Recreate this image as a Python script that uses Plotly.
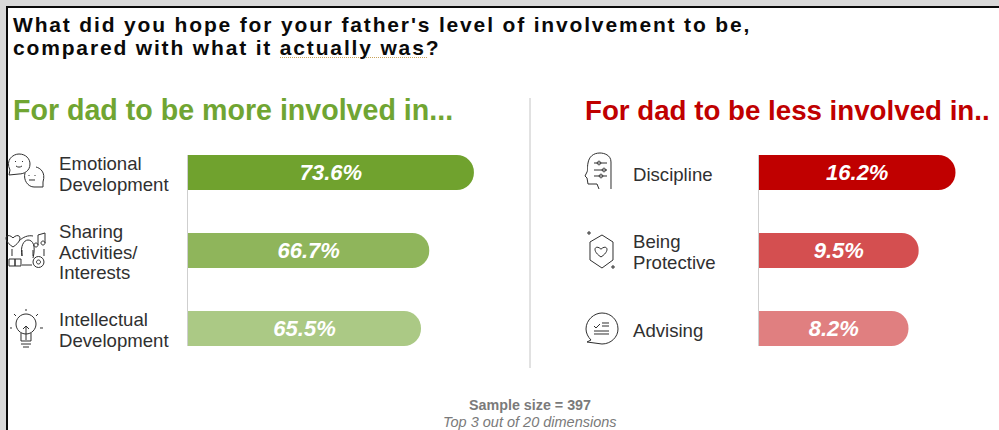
import re
import math
import plotly.graph_objects as go

W, H = 999, 430

# Survey results: share of respondents per dimension
more_labels = [["Emotional", "Development"], ["Sharing", "Activities/", "Interests"], ["Intellectual", "Development"]]
more_keys = ["Emotional Development", "Sharing Activities/Interests", "Intellectual Development"]
more_values = [73.6, 66.7, 65.5]
more_colors = ["#70a22e", "#8fb55b", "#abc985"]

less_labels = [["Discipline"], ["Being", "Protective"], ["Advising"]]
less_keys = ["Discipline", "Being Protective", "Advising"]
less_values = [16.2, 9.5, 8.2]
less_colors = ["#c00000", "#d44f50", "#e07f80"]

# Both value axes are logarithmic: lower bound and pixels per decade
more_start, more_px_per_decade = 39.2, 1045.0
less_start, less_px_per_decade = 0.94, 158.9


def px(x, y):
    return x / W, 1 - y / H


def to_paper(path):
    """Convert a path written in page pixels to paper coordinates."""
    return re.sub(r"(-?[\d.]+),(-?[\d.]+)",
                  lambda m: "%.5f,%.5f" % px(float(m[1]), float(m[2])), path)


def circle(cx, cy, rx, ry=None):
    ry = rx if ry is None else ry
    k = 0.5523
    return (f"M{cx-rx},{cy} C{cx-rx},{cy-k*ry} {cx-k*rx},{cy-ry} {cx},{cy-ry} "
            f"C{cx+k*rx},{cy-ry} {cx+rx},{cy-k*ry} {cx+rx},{cy} "
            f"C{cx+rx},{cy+k*ry} {cx+k*rx},{cy+ry} {cx},{cy+ry} "
            f"C{cx-k*rx},{cy+ry} {cx-rx},{cy+k*ry} {cx-rx},{cy} Z")


def heart(cx, cy, s):
    return (f"M{cx},{cy+s} C{cx-s*1.7},{cy-s*0.1} {cx-s*0.9},{cy-s*1.2} {cx},{cy-s*0.3} "
            f"C{cx+s*0.9},{cy-s*1.2} {cx+s*1.7},{cy-s*0.1} {cx},{cy+s}")


icon_paths = [
    # two chat bubbles with faces
    "M9,175 L10,170 C5,160 13,154 19,154 C26,154 30,159 30,164 C30,171 24,174 19,174 L9,175",
    "M43,187 L43,182 C46,172 40,168 36,167 M25,173 C23,180 28,187 34,187 L43,187",
    "M15.5,161 L15.5,162 M22.5,161 L22.5,162 M16,166 C18,167.5 20,167.5 22,166",
    "M29,175 L29,176 M35,175 L35,176 M29,180 L35,180",
    # sharing activities: ring, heart, notes, book, gear
    "M19,241 C23,237 28,235 33,236", "M12,249 L12,256", "M44,249 L44,256", "M22,265 L32,265",
    "M22,256 C20,246 24,240 28,240 C33,240 36,246 33,258",
    "M22,250 L22,256 M33,250 L33,256",
    heart(13, 240, 7),
    "M38,245 L38,235 L45,233 L45,243", circle(36, 245, 2), circle(43, 243, 2),
    "M9,259 L15,259 L15,266 L9,266 Z M15,259 L21,259 L21,266 L15,266 Z",
    circle(38.5, 262, 5.5), circle(38.5, 262, 2),
    # light bulb with rays
    circle(26, 324, 10),
    "M21,333 L21,341 L31,341 L31,333 M21,344 L31,344 M23,347 L29,347",
    "M26,340 L26,327 M23,329 L26,326 L29,329",
    "M26,309 L26,311 M14,314 L16,316 M38,314 L36,316 M10,328 L12,328 M40,328 L43,328",
    # head with sliders
    "M611,189 L611,162 C611,155 604,153 600,153 C593,153 589,157 588,163 C587,168 588,170 587,172 "
    "L585,176 L587,178 L588,184 L597,184 L599,189",
    "M594,163 L607,163 M594,170 L607,170 M594,176 L607,176",
    circle(599, 163, 1.8), circle(604, 170, 1.8), circle(601, 176, 1.8),
    # shield with heart and sparkles
    "M602,235 L613,242 L613,260 L602,268 L590,260 L590,242 Z",
    heart(601, 251, 6),
    "M587,233 L591,233 M589,231 L589,235 M611,267 L615,267 M613,265 L613,269",
    # speech bubble with checklist
    "M587,342 L591,340 C588,337 586,333 586,329 C586,320 594,313 602,313 C611,313 618,320 618,329 "
    "C618,337 611,344 602,344 L587,342",
    "M594,326 L596,328 L600,324 M602,323 L609,323 M602,326 L609,326 M594,331 L609,331 M594,334 L609,334",
]

# Page frame along the top and left edges
shapes = [
    dict(type="rect", xref="paper", yref="paper", x0=0, x1=1, y0=px(0, 6)[1], y1=1,
         fillcolor="#d9d9d9", line_width=0, layer="below"),
    dict(type="rect", xref="paper", yref="paper", x0=0, x1=px(6, 0)[0], y0=0, y1=1,
         fillcolor="#d9d9d9", line_width=0, layer="below"),
    dict(type="rect", xref="paper", yref="paper", x0=px(6, 0)[0], x1=1, y0=px(0, 8)[1], y1=px(0, 6)[1],
         fillcolor="#0a0a0a", line_width=0),
    dict(type="rect", xref="paper", yref="paper", x0=px(6, 0)[0], x1=px(8, 0)[0], y0=0, y1=px(0, 6)[1],
         fillcolor="#0a0a0a", line_width=0),
    # panel divider
    dict(type="line", xref="paper", yref="paper", x0=px(530, 0)[0], x1=px(530, 0)[0],
         y0=px(0, 368)[1], y1=px(0, 98)[1], line=dict(color="#c4c4c4", width=1)),
    # proofing underline in the question
    dict(type="line", xref="paper", yref="paper", x0=px(280, 0)[0], x1=px(427, 0)[0],
         y0=px(0, 57.5)[1], y1=px(0, 57.5)[1], line=dict(color="#c8a25a", width=1.2, dash="1px,1px")),
]
for p in icon_paths:
    shapes.append(dict(type="path", xref="paper", yref="paper", path=to_paper(p),
                       line=dict(color="#2f2f2f", width=1), fillcolor="rgba(0,0,0,0)"))


def note(text, x, y, size, color, bold=False, italic=False, anchor="left", font="Liberation Sans"):
    px_x, px_y = px(x, y)
    if bold:
        text = f"<b>{text}</b>"
    if italic:
        text = f"<i>{text}</i>"
    return dict(text=text, xref="paper", yref="paper", x=px_x, y=px_y, xanchor=anchor, yanchor="middle",
                showarrow=False, align=anchor, font=dict(family=font, size=size, color=color),
                borderpad=0)


TRACK = "letter-spacing:1.84px"
annotations = [
    note(f'<span style="{TRACK}">What did you hope for your father\'s level of involvement to be,</span>',
         12, 25, 21, "#0a0a0a", bold=True),
    note(f'<span style="{TRACK}">compared with what it actually was?</span>', 12, 47, 21, "#0a0a0a", bold=True),
    note("For dad to be more involved in...", 12, 110.5, 28.6, "#70a532", bold=True),
    note("For dad to be less involved in..", 583.5, 110.5, 27.7, "#c00000", bold=True),
    note("Sample size = 397", 530, 405, 14.3, "#7a7a7a", bold=True, anchor="center"),
    note("Top 3 out of 20 dimensions", 530, 422, 14.5, "#7a7a7a", italic=True, anchor="center"),
]

ROW_PITCH = 78
LINE_PITCH = 20.5
for labels, x in ((more_labels, 58), (less_labels, 632)):
    for i, lines in enumerate(labels):
        centre = 172.5 + i * ROW_PITCH
        for j, line in enumerate(lines):
            offset = (j - (len(lines) - 1) / 2) * LINE_PITCH
            annotations.append(note(line, x, centre + offset + 1.5, 18.6, "#303030"))


def panel(keys, values, colors, xaxis, yaxis):
    return go.Bar(
        y=keys, x=values, orientation="h",
        marker=dict(color=colors, cornerradius=17, line_width=0), width=0.449,
        text=[f"{v}%" for v in values], textposition="inside", insidetextanchor="middle",
        textangle=0, cliponaxis=True, constraintext="none",
        insidetextfont=dict(family="Liberation Sans", size=22, color="white", weight="bold", style="italic"),
        showlegend=False, hoverinfo="skip", xaxis=xaxis, yaxis=yaxis,
    )


fig = go.Figure([
    panel(more_keys, more_values, more_colors, "x", "y"),
    panel(less_keys, less_values, less_colors, "x2", "y2"),
])

y_domain = [px(0, 346)[1], px(0, 155)[1]]
y_range = [2.2245, -0.2245]
axis_y = dict(range=y_range, domain=y_domain, showline=True, linecolor="#cfcfcf", linewidth=1,
              showticklabels=False, ticks="", showgrid=False, zeroline=False, type="category")
axis_x = dict(showticklabels=False, ticks="", showgrid=False, zeroline=False, showline=False, type="log")

more_log_start = math.log10(more_start)
less_log_start = math.log10(less_start)
fig.update_layout(
    width=W, height=H, margin=dict(l=0, r=0, t=0, b=0), paper_bgcolor="white", plot_bgcolor="rgba(0,0,0,0)",
    xaxis=dict(axis_x, domain=[188 / W, 520 / W],
               range=[more_log_start, more_log_start + 332 / more_px_per_decade], anchor="y"),
    xaxis2=dict(axis_x, domain=[759 / W, 990 / W],
                range=[less_log_start, less_log_start + 231 / less_px_per_decade], anchor="y2"),
    yaxis=dict(axis_y, anchor="x"),
    yaxis2=dict(axis_y, anchor="x2"),
    shapes=shapes, annotations=annotations,
)

fig.write_html("out.html", config=dict(displayModeBar=False))
